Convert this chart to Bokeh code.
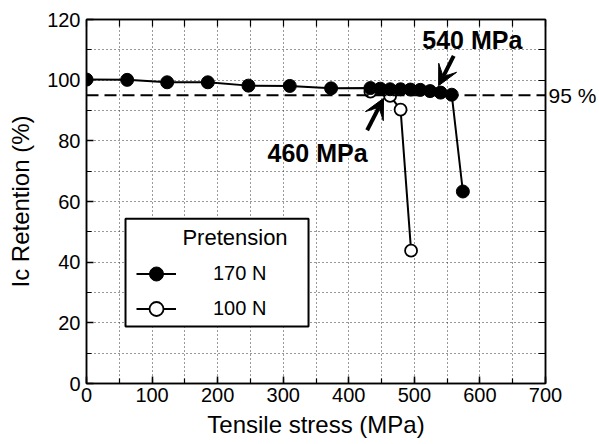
from bokeh.plotting import figure
from bokeh.models import (Range1d, LinearAxis, SingleIntervalTicker, FixedTicker, Span, Label,
                          Arrow, VeeHead, Legend, LegendItem, BoxAnnotation)
from bokeh.embed import file_html
from bokeh.resources import INLINE

# ---- data ----
stress_170 = [0, 62, 123, 185, 247, 310, 373, 433, 448, 463, 479, 494, 509, 524, 540, 557, 574]
ret_170 = [100.2, 100.1, 99.3, 99.3, 98.2, 98.1, 97.3, 97.4, 97.2, 97.0, 97.0, 96.9, 96.8, 96.4, 95.9, 95.2, 63.3]
stress_100 = [433, 463, 479, 495]
ret_100 = [96.2, 94.8, 90.3, 43.8]
threshold = 95
threshold_label = "95 %"
x_ticks_interval = 100
y_ticks_interval = 20

FONT = "Liberation Sans"

p = figure(width=599, height=444, output_backend="svg", toolbar_location=None,
           x_range=Range1d(0, 700), y_range=Range1d(0, 120),
           min_border_left=86, min_border_right=54, min_border_top=19, min_border_bottom=61)
p.background_fill_color = "white"
p.border_fill_color = "white"
p.outline_line_color = "black"
p.outline_line_width = 1.5

def style_axis(ax):
    ax.axis_line_color = "black"
    ax.axis_line_width = 1.5
    ax.major_tick_line_color = "black"
    ax.major_tick_line_width = 1.5
    ax.minor_tick_line_color = "black"
    ax.minor_tick_line_width = 1.2
    ax.major_tick_in = 7
    ax.major_tick_out = 0
    ax.minor_tick_in = 5
    ax.minor_tick_out = 0
    ax.major_label_text_font = FONT
    ax.major_label_text_color = "black"
    ax.major_label_text_font_size = "20px"

p.xaxis[0].ticker = SingleIntervalTicker(interval=x_ticks_interval, num_minor_ticks=2)
p.yaxis[0].ticker = SingleIntervalTicker(interval=y_ticks_interval, num_minor_ticks=2)
style_axis(p.xaxis[0])
style_axis(p.yaxis[0])
p.xaxis[0].major_label_standoff = 4
p.yaxis[0].major_label_standoff = 6
for ax, title, standoff in ((p.xaxis[0], "Tensile stress (MPa)", 6),
                            (p.yaxis[0], "Ic Retention (%)", 10)):
    ax.axis_label = title
    ax.axis_label_text_font = FONT
    ax.axis_label_text_font_size = "24px"
    ax.axis_label_text_font_style = "normal"
    ax.axis_label_text_color = "black"
    ax.axis_label_standoff = standoff

# top axis: ticks only (every 50)
top = LinearAxis(ticker=FixedTicker(ticks=[], minor_ticks=list(range(0, 701, 50))))
style_axis(top)
top.minor_tick_in = 7
p.add_layout(top, "above")

# right axis: ticks every 10, and the threshold label
right = LinearAxis(ticker=FixedTicker(ticks=[threshold], minor_ticks=list(range(0, 121, 10))),
                   major_label_overrides={threshold: threshold_label})
style_axis(right)
right.major_tick_in = 0
right.minor_tick_in = 7
right.major_label_text_font_size = "21px"
right.major_label_standoff = 3
p.add_layout(right, "right")

p.xgrid.ticker = SingleIntervalTicker(interval=50)
p.ygrid.ticker = SingleIntervalTicker(interval=10)
for g in (p.xgrid, p.ygrid):
    g.grid_line_color = "#333333"
    g.grid_line_dash = "1 3"
    g.grid_line_width = 1

# threshold line
p.add_layout(Span(location=threshold, dimension="width", line_color="black",
                  line_width=2, line_dash="12 6"))

# series
l100 = p.line(stress_100, ret_100, line_color="black", line_width=2)
s100 = p.scatter(stress_100, ret_100, size=12, marker="circle", fill_color="white",
                 line_color="black", line_width=1.8)
l170 = p.line(stress_170, ret_170, line_color="black", line_width=2)
s170 = p.scatter(stress_170, ret_170, size=13, marker="circle", fill_color="black",
                 line_color="black")

# annotations
p.add_layout(Label(x=512, y=113.2, text="540 MPa", text_font=FONT, text_font_size="25px",
                   text_font_style="bold", text_baseline="middle", text_color="black"))
p.add_layout(Label(x=276, y=76.0, text="460 MPa", text_font=FONT, text_font_size="25px",
                   text_font_style="bold", text_baseline="middle", text_color="black"))
p.add_layout(Arrow(end=VeeHead(size=20, fill_color="black", line_color="black"),
                   x_start=560, y_start=108, x_end=537, y_end=98.2,
                   line_color="black", line_width=4))
p.add_layout(Arrow(end=VeeHead(size=20, fill_color="black", line_color="black"),
                   x_start=428, y_start=83.5, x_end=453, y_end=94.0,
                   line_color="black", line_width=4))

# legend frame + title
p.add_layout(BoxAnnotation(left=59.5, right=338.6, top=54.3, bottom=18.8,
                           fill_color="white", fill_alpha=1.0,
                           line_color="black", line_width=2, line_alpha=1.0))
p.add_layout(Label(x=226.5, y=48.1, text="Pretension", text_font=FONT, text_font_size="22px",
                   text_align="center", text_baseline="middle", text_color="black"))
legend = Legend(items=[LegendItem(label="170 N", renderers=[l170, s170]),
                       LegendItem(label="100 N", renderers=[l100, s100])],
                location=(50, 57), glyph_width=40, glyph_height=35, label_height=20,
                label_standoff=37, spacing=-13, padding=0, margin=0,
                border_line_color=None, background_fill_alpha=0,
                label_text_font=FONT, label_text_font_size="20px", label_text_color="black")
p.add_layout(legend)

open("out.html", "w").write(file_html(p, INLINE))
